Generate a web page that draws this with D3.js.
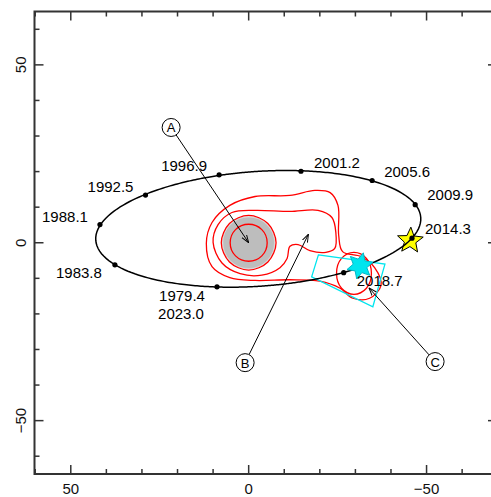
<!DOCTYPE html>
<html>
<head>
<meta charset="utf-8">
<script src="https://cdn.jsdelivr.net/npm/d3@7"></script>
<style>
  html, body { margin: 0; padding: 0; background: #fff; }
  svg { display: block; }
  text { font-family: "Liberation Sans", Helvetica, Arial, sans-serif; }
</style>
</head>
<body>
<svg id="chart" width="491" height="497"></svg>
<script>
// Orbit epochs (years) and positions on the sky (offsets, same units as the axes)
const epochs = ["1979.4", "1983.8", "1988.1", "1992.5", "1996.9", "2001.2", "2005.6", "2009.9", "2014.3", "2018.7"];
const orbitX = [8.9, 37.6, 41.8, 29.0, 8.3, -14.7, -34.7, -46.8, -45.9, -26.7];
const orbitY = [-12.4, -6.2, 5.1, 13.4, 19.1, 20.1, 17.5, 10.7, 1.3, -8.4];
// closing epoch of the orbit, drawn under the first point
const closingEpoch = "2023.0";

// Axis ticks
const majorTicks = [50, 0, -50];
const minorTicks = [60, 40, 30, 20, 10, -10, -20, -30, -40, -60];

// Emission contours (outer to inner)
const contourOuterX = [11.9, 10.3, 5.3, -1.8, -11.6, -18.6, -22.9, -25.1, -25.3, -26.4, -31.6, -35.4, -37.2, -34.0, -29.3, -25.7, -20.0, -11.6, -1.8, 5.3, 10.3];
const contourOuterY = [-0.2, 5.7, 10.5, 13.0, 13.3, 14.7, 14.1, 10.5, 2.1, -2.5, -3.9, -7.0, -12.0, -15.6, -15.6, -12.8, -10.8, -10.4, -10.6, -9.8, -6.7];
const contourMidX = [10.0, 8.6, 4.7, -1.8, -11.6, -19.5, -23.4, -24.5, -24.2, -21.7, -17.2, -13.9, -11.6, -10.8, -8.8, -3.7, 2.4, 7.5];
const contourMidY = [0.1, 5.1, 8.5, 9.1, 8.8, 9.1, 7.1, 2.9, -1.6, -2.7, -2.2, -0.5, -1.0, -4.4, -7.0, -9.1, -8.7, -5.7];
const contourInner2X = [7.7, 5.4, 0, -5.4, -7.7, -5.4, 0, 5.4];
const contourInner2Y = [0, 5.4, 7.7, 5.4, 0, -5.4, -7.7, -5.4];
const contourInner1X = [5.2, 3.7, 0, -3.7, -5.2, -3.7, 0, 3.7];
const contourInner1Y = [0, 3.7, 5.2, 3.7, 0, -3.7, -5.2, -3.7];
const contourKnotX = [-24.7, -26.1, -29.6, -33.1, -34.5, -33.1, -29.6, -26.1];
const contourKnotY = [-8.6, -4.4, -2.7, -4.4, -8.6, -12.8, -14.5, -12.8];

// Central source (filled disk)
const diskX = 0, diskY = 0, diskR = 7.3;

// Field footprint (quadrilateral)
const fieldX = [-19.6, -38.3, -34.9, -17.7];
const fieldY = [-3.4, -6.0, -18.0, -9.6];

// Markers
const yellowStar = { x: -45.4, y: 0.6 };
const cyanStar = { x: -31.3, y: -6.5 };

// Callouts: label position and arrow target
const calloutNames = ["A", "B", "C"];
const calloutX = [21.8, 1.0, -52.4];
const calloutY = [32.4, -33.7, -33.4];
const targetX = [0.0, -16.8, -33.8];
const targetY = [0.0, 2.4, -12.7];

// ---- layout ----
const svg = d3.select("#chart");
const plotLeft = 34.5, plotTop = 11.5, plotSize = 462.5;

const x = d3.scaleLinear().domain([60.2, -69.8]).range([plotLeft, plotLeft + plotSize]);
const y = d3.scaleLinear().domain([-65, 65]).range([plotTop + plotSize, plotTop]);

const defs = svg.append("defs");
defs.append("clipPath").attr("id", "plotclip")
  .append("rect").attr("x", plotLeft).attr("y", plotTop).attr("width", plotSize).attr("height", plotSize);
defs.append("marker").attr("id", "head")
  .attr("viewBox", "0 -5 10 10").attr("refX", 10).attr("refY", 0)
  .attr("markerWidth", 8).attr("markerHeight", 8).attr("markerUnits", "userSpaceOnUse")
  .attr("orient", "auto")
  .append("path").attr("d", "M0,-3.5L10,0L0,3.5").attr("fill", "none").attr("stroke", "#000").attr("stroke-width", 1.2);

const g = svg.append("g").attr("clip-path", "url(#plotclip)");

// ---- orbit ellipse: least-squares conic fit through the epoch positions ----
function fitConic(xs, ys) {
  // A x^2 + B xy + C y^2 + D x + E y = 1
  const n = 5;
  const M = Array.from({ length: n }, () => new Array(n + 1).fill(0));
  xs.forEach((xi, i) => {
    const yi = ys[i];
    const row = [xi * xi, xi * yi, yi * yi, xi, yi];
    for (let r = 0; r < n; r++) {
      for (let c = 0; c < n; c++) M[r][c] += row[r] * row[c];
      M[r][n] += row[r];
    }
  });
  for (let c = 0; c < n; c++) {
    let p = c;
    for (let r = c + 1; r < n; r++) if (Math.abs(M[r][c]) > Math.abs(M[p][c])) p = r;
    [M[c], M[p]] = [M[p], M[c]];
    for (let r = 0; r < n; r++) {
      if (r === c) continue;
      const f = M[r][c] / M[c][c];
      for (let k = c; k <= n; k++) M[r][k] -= f * M[c][k];
    }
  }
  return M.map((row, i) => row[n] / row[i]);
}
const [cA, cB, cC, cD, cE] = fitConic(orbitX, orbitY);
const det = 4 * cA * cC - cB * cB;
const x0 = (cB * cE - 2 * cC * cD) / det;
const y0 = (cB * cD - 2 * cA * cE) / det;
const q0 = (cD * x0 + cE * y0) / 2 - 1;
const orbitPath = d3.range(0, 361, 1).map(deg => {
  const t = deg * Math.PI / 180, c = Math.cos(t), s = Math.sin(t);
  const r = Math.sqrt(-q0 / (cA * c * c + cB * c * s + cC * s * s));
  return [x0 + r * c, y0 + r * s];
});

const line = d3.line().x(d => x(d[0])).y(d => y(d[1]));
const closedCurve = d3.line().x(d => x(d[0])).y(d => y(d[1])).curve(d3.curveCatmullRomClosed.alpha(0.5));

// gray disk
g.append("circle").attr("cx", x(diskX)).attr("cy", y(diskY))
  .attr("r", x(0) - x(diskR)).attr("fill", "#bdbdbd").attr("stroke", "#d6d6d6").attr("stroke-width", 1.2);

// contours
const contours = [
  [contourOuterX, contourOuterY],
  [contourMidX, contourMidY],
  [contourInner2X, contourInner2Y],
  [contourInner1X, contourInner1Y],
  [contourKnotX, contourKnotY]
];
contours.forEach(([cx, cy]) => {
  g.append("path").datum(cx.map((v, i) => [v, cy[i]]))
    .attr("d", closedCurve).attr("fill", "none").attr("stroke", "#ff0000").attr("stroke-width", 1.3);
});

// field footprint
g.append("path").datum(fieldX.map((v, i) => [v, fieldY[i]]))
  .attr("d", d => line(d) + "Z").attr("fill", "none").attr("stroke", "#00e5ee").attr("stroke-width", 1.3);

// star markers
function starPath(points, outer, inner, rot) {
  const pts = d3.range(points * 2).map(k => {
    const r = k % 2 === 0 ? outer : inner;
    const a = rot + k * Math.PI / points;
    return [r * Math.sin(a), -r * Math.cos(a)];
  });
  return "M" + pts.join("L") + "Z";
}
g.append("path").attr("d", starPath(5, 13.5, 6, 0.05))
  .attr("transform", `translate(${x(yellowStar.x)},${y(yellowStar.y)})`)
  .attr("fill", "#ffff00").attr("stroke", "#000").attr("stroke-width", 1);

// orbit
g.append("path").datum(orbitPath).attr("d", d => line(d) + "Z")
  .attr("fill", "none").attr("stroke", "#000").attr("stroke-width", 1.5);

// cyan star sits above the orbit track
g.append("path").attr("d", starPath(6, 13.5, 7, 0.25))
  .attr("transform", `translate(${x(cyanStar.x)},${y(cyanStar.y)})`)
  .attr("fill", "#00e5ee").attr("stroke", "#00b8c8").attr("stroke-width", 1);

// epoch dots
g.selectAll("circle.epoch").data(epochs).join("circle").attr("class", "epoch")
  .attr("cx", (d, i) => x(orbitX[i])).attr("cy", (d, i) => y(orbitY[i]))
  .attr("r", 2.6).attr("fill", "#000");

// epoch labels (offset in pixels left or right of the dot)
const labelDx = [-35, -36, -35, -35, -35, 36, 35, 35, 36, 36];
const labelDy = [9, 8, -8, -9, -9, -9, -9, -10, -10, 8];
g.selectAll("text.epoch").data(epochs).join("text").attr("class", "epoch")
  .attr("x", (d, i) => x(orbitX[i]) + labelDx[i])
  .attr("y", (d, i) => y(orbitY[i]) + labelDy[i])
  .attr("text-anchor", "middle").attr("dominant-baseline", "central")
  .attr("font-size", 15).attr("fill", "#000").text(d => d);
g.append("text")
  .attr("x", x(orbitX[0]) - 36).attr("y", y(orbitY[0]) + 27)
  .attr("text-anchor", "middle").attr("dominant-baseline", "central")
  .attr("font-size", 15).attr("fill", "#000").text(closingEpoch);

// callouts
calloutNames.forEach((name, i) => {
  const cx = x(calloutX[i]), cy = y(calloutY[i]);
  const tx = x(targetX[i]), ty = y(targetY[i]);
  const ang = Math.atan2(ty - cy, tx - cx);
  const r = 9;
  g.append("line")
    .attr("x1", cx + r * Math.cos(ang)).attr("y1", cy + r * Math.sin(ang))
    .attr("x2", tx).attr("y2", ty)
    .attr("stroke", "#000").attr("stroke-width", 1).attr("marker-end", "url(#head)");
  g.append("circle").attr("cx", cx).attr("cy", cy).attr("r", r)
    .attr("fill", "#fff").attr("stroke", "#000").attr("stroke-width", 1);
  g.append("text").attr("x", cx).attr("y", cy + 0.5)
    .attr("text-anchor", "middle").attr("dominant-baseline", "central")
    .attr("font-family", "'Liberation Serif', 'Times New Roman', serif")
    .attr("font-size", 13).attr("fill", "#000").text(name);
});

// ---- frame and ticks ----
const frameColor = "#333";
const axisG = svg.append("g");
axisG.append("rect").attr("x", plotLeft).attr("y", plotTop).attr("width", plotSize).attr("height", plotSize)
  .attr("fill", "none").attr("stroke", frameColor).attr("stroke-width", 2);

const majorLen = 9, minorLen = 5;
function ticks(vals, len) {
  vals.forEach(v => {
    const px = x(v);
    axisG.append("line").attr("x1", px).attr("x2", px).attr("y1", plotTop + plotSize).attr("y2", plotTop + plotSize - len)
      .attr("stroke", frameColor).attr("stroke-width", 1.5);
    axisG.append("line").attr("x1", px).attr("x2", px).attr("y1", plotTop).attr("y2", plotTop + len)
      .attr("stroke", frameColor).attr("stroke-width", 1.5);
    const py = y(v);
    axisG.append("line").attr("y1", py).attr("y2", py).attr("x1", plotLeft).attr("x2", plotLeft + len)
      .attr("stroke", frameColor).attr("stroke-width", 1.5);
    axisG.append("line").attr("y1", py).attr("y2", py).attr("x1", plotLeft + plotSize).attr("x2", plotLeft + plotSize - len)
      .attr("stroke", frameColor).attr("stroke-width", 1.5);
  });
}
ticks(majorTicks, majorLen);
ticks(minorTicks, minorLen);

const fmt = v => (v < 0 ? "\u2212" : "") + Math.abs(v);
axisG.selectAll("text.xt").data(majorTicks).join("text").attr("class", "xt")
  .attr("x", d => x(d)).attr("y", plotTop + plotSize + 14)
  .attr("text-anchor", "middle").attr("dominant-baseline", "central")
  .attr("font-size", 15).attr("fill", "#111").text(fmt);
axisG.selectAll("text.yt").data(majorTicks).join("text").attr("class", "yt")
  .attr("transform", d => `translate(${plotLeft - 14},${y(d)}) rotate(-90)`)
  .attr("text-anchor", "middle").attr("dominant-baseline", "central")
  .attr("font-size", 15).attr("fill", "#111").text(fmt);
</script>
</body>
</html>
